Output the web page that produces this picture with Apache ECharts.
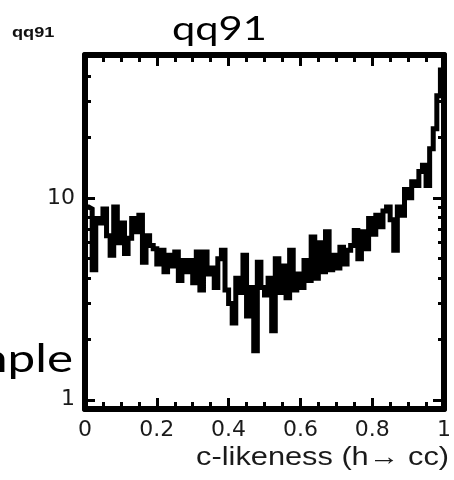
<!DOCTYPE html>
<html>
<head>
<meta charset="utf-8">
<script src="https://cdn.jsdelivr.net/npm/echarts@6/dist/echarts.min.js"></script>
<style>
  html, body { margin: 0; padding: 0; background: #ffffff; }
  #chart { width: 454px; height: 480px; }
</style>
</head>
<body>
<div id="chart"></div>
<script>
// c-likeness (h -> cc) distribution for the qq91 sample, 100 equal bins on [0, 1]
const binCount = 100;
const binContents = [
  9.0, 8.8, 4.4, 7.9, 7.5, 8.8, 6.5, 5.2, 9.0, 6.0,
  7.5, 5.3, 6.3, 7.9, 6.8, 8.2, 4.8, 6.5, 5.8, 5.6,
  4.7, 5.5, 4.3, 5.2, 4.6, 5.4, 3.9, 4.9, 4.3, 4.9,
  3.8, 5.4, 3.5, 5.4, 4.2, 4.5, 3.6, 5.0, 5.5, 3.5,
  3.0, 2.4, 4.0, 3.4, 5.2, 2.6, 3.6, 1.75, 4.8, 3.6,
  3.3, 4.0, 2.2, 5.0, 3.4, 4.6, 3.2, 5.5, 3.5, 4.2,
  3.6, 4.9, 3.9, 6.4, 4.0, 6.0, 4.3, 6.8, 4.4, 5.2,
  4.5, 5.7, 4.7, 5.5, 5.8, 6.9, 5.0, 6.8, 5.6, 7.9,
  6.6, 8.2, 7.2, 8.6, 9.0, 7.8, 5.5, 9.0, 8.2, 11.0,
  10.0, 12.0, 11.5, 13.5, 14.5, 11.5, 17.5, 22.0, 32.0, 43.0
];

// axis ticks
const xTickStep = 0.2;
const yMajorTicks = [1, 10];
const yMinorTicks = [2, 3, 4, 5, 6, 7, 8, 9, 20, 30, 40, 50];
const yRange = [0.9, 51];

// texts
const panelTag = 'qq91';
const slideTitle = 'qq91';
const sideWord = 'Sample';
const xTitle = 'c-likeness (h\u2192 cc)';

// each bin starts at its lower edge; a closing point at x = 1 finishes the last bin
const stepPoints = binContents.map((v, i) => [i / binCount, v]);
stepPoints.push([1, binContents[binContents.length - 1]]);

const ink = '#000000';
const frameLine = () => ({ show: true, onZero: false, lineStyle: { color: ink, width: 6 } });
const noLine = () => ({ show: false, onZero: false });

function xAxisDef(pos, withLabels) {
  return {
    type: 'value', position: pos, min: 0, max: 1, interval: xTickStep,
    axisLine: frameLine(),
    axisTick: { show: true, inside: true, length: 11, lineStyle: { color: ink, width: 3 } },
    minorTick: { show: true, splitNumber: 4, length: 7, lineStyle: { color: ink, width: 3 } },
    splitLine: { show: false },
    axisLabel: withLabels ? {
      show: true, margin: 10, color: '#1a1a1a', fontSize: 22, fontFamily: 'DejaVu Sans',
      showMinLabel: true, showMaxLabel: true,
      formatter: v => String(+v.toFixed(1))
    } : { show: false }
  };
}

// log axis; the major-tick axes carry the frame line, the minor-tick axes only their ticks
function yAxisDef(pos, ticks, len, withLabels, withLine) {
  return {
    type: 'log', logBase: 10, position: pos, min: yRange[0], max: yRange[1],
    axisLine: withLine ? frameLine() : noLine(),
    axisTick: { show: true, inside: true, length: len, customValues: ticks, lineStyle: { color: ink, width: 3 } },
    minorTick: { show: false },
    splitLine: { show: false },
    axisLabel: withLabels ? {
      show: true, margin: 10, color: '#1a1a1a', fontSize: 22, fontFamily: 'DejaVu Sans',
      customValues: ticks
    } : { show: false }
  };
}

const chart = echarts.init(document.getElementById('chart'), null, { renderer: 'canvas' });
chart.setOption({
  animation: false,
  backgroundColor: '#ffffff',
  grid: { left: 85, right: 4, top: 55, bottom: 71, containLabel: false },
  xAxis: [xAxisDef('bottom', true), xAxisDef('top', false)],
  yAxis: [
    yAxisDef('left', yMajorTicks, 10, true, true),
    yAxisDef('left', yMinorTicks, 6, false, false),
    yAxisDef('right', yMajorTicks, 11, false, true),
    yAxisDef('right', yMinorTicks, 6, false, false)
  ],
  series: [{
    type: 'line',
    xAxisIndex: 0,
    yAxisIndex: 0,
    step: 'end',
    data: stepPoints,
    showSymbol: false,
    clip: true,
    lineStyle: { color: ink, width: 5, join: 'miter' },
    z: 3
  }],
  graphic: [
    {
      type: 'text', x: 12, y: 33, scaleX: 1.3,
      style: { text: panelTag, fontFamily: 'Liberation Sans', fontWeight: 'bold', fontSize: 14,
               fill: '#111', textAlign: 'left', textVerticalAlign: 'middle' }
    },
    {
      type: 'text', x: 172, y: 29, scaleX: 1.26,
      style: { text: slideTitle, fontFamily: 'Lato', fontSize: 33,
               fill: '#000', textAlign: 'left', textVerticalAlign: 'middle' }
    },
    {
      type: 'text', x: 73, y: 360, scaleX: 1.3,
      style: { text: sideWord, fontFamily: 'Lato', fontSize: 38,
               fill: '#000', textAlign: 'right', textVerticalAlign: 'middle' }
    },
    {
      type: 'text', x: 449, y: 458, scaleX: 1.23,
      style: { text: xTitle, fontFamily: 'Liberation Sans', fontSize: 25,
               fill: '#1a1a1a', textAlign: 'right', textVerticalAlign: 'middle' }
    }
  ]
});
</script>
</body>
</html>
